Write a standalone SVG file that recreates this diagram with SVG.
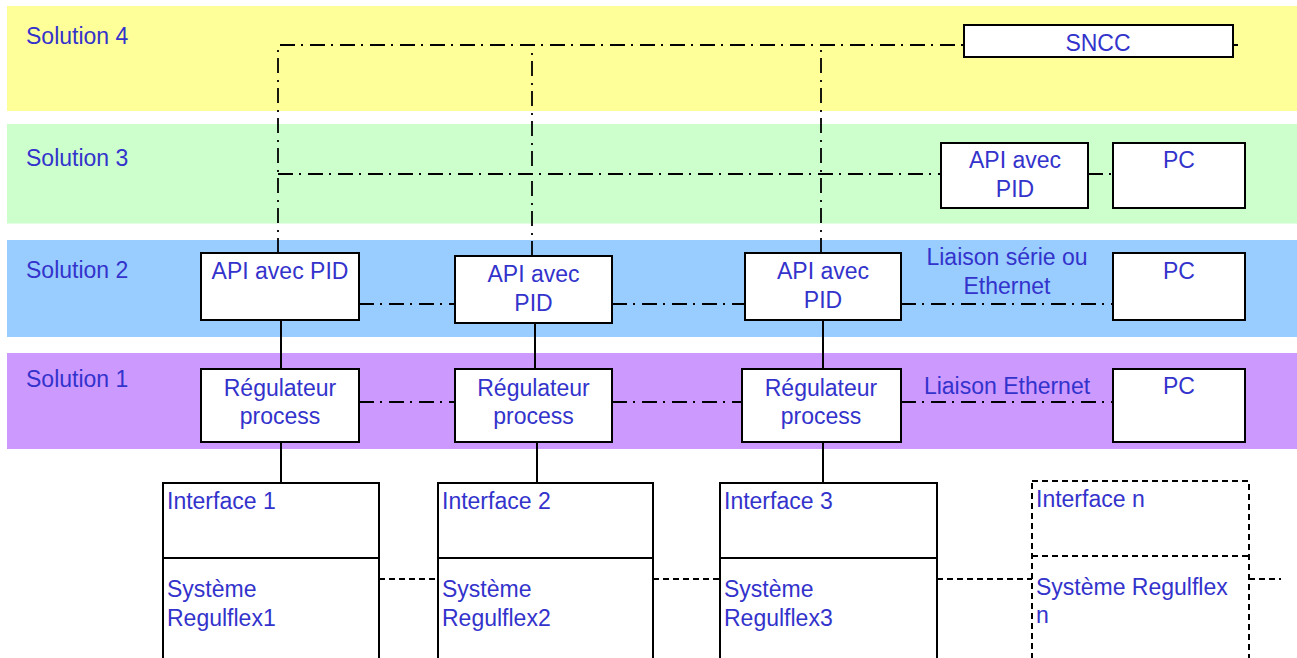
<svg xmlns="http://www.w3.org/2000/svg" width="1297" height="658" viewBox="0 0 1297 658">
<style>
text{font-family:"Liberation Sans",Arial,sans-serif;font-size:23px;fill:#3333CC}
.c{text-anchor:middle}
.box{fill:#fff;stroke:#000;stroke-width:2}
.dbox{fill:#fff;stroke:#000;stroke-width:2;stroke-dasharray:6 4}
.dd{fill:none;stroke:#000;stroke-width:1.8;stroke-dasharray:15 6 2 7}
.sl{fill:none;stroke:#000;stroke-width:2}
.ds{fill:none;stroke:#000;stroke-width:2;stroke-dasharray:6 4}
</style>
<rect width="1297" height="658" fill="#fff"/>
<g id="bands">
<rect x="7" y="6" width="1290" height="105" fill="#FFFF99"/>
<rect x="7" y="124" width="1290" height="99.5" fill="#CCFFCC"/>
<rect x="7" y="240" width="1290" height="97" fill="#99CCFF"/>
<rect x="7" y="353" width="1290" height="96" fill="#CC99FF"/>
<text x="26" y="44">Solution 4</text>
<text x="26" y="166">Solution 3</text>
<text x="26" y="278">Solution 2</text>
<text x="26" y="387">Solution 1</text>
<text class="c" x="1007" y="265">Liaison série ou</text>
<text class="c" x="1007" y="294">Ethernet</text>
<text class="c" x="1007" y="394">Liaison Ethernet</text>
</g>
<g id="connectors">
<path class="dd" d="M278,253 V45 H964 M532,256 V45 M821,253 V45 M1233,45 H1238"/>
<path class="dd" d="M278,174 H941 M1088,174 H1113"/>
<path class="dd" d="M359,304 H455 M612,304 H745 M901,304 H1113"/>
<path class="dd" d="M359,402 H455 M612,402 H742 M901,402 H1113"/>
<path class="sl" d="M281,320 V369 M535,323 V369 M823,320 V369 M281,442 V483 M537,442 V483 M823,442 V483"/>
<path class="ds" d="M379,579 H438 M653,579 H720 M937,579 H1032 M1249,579 H1281"/>
</g>
<g id="sncc"><rect class="box" x="964" y="25" width="269" height="32"/><text class="c" x="1098" y="51">SNCC</text></g>
<g id="api-s3"><rect class="box" x="941" y="143" width="147" height="65"/><text class="c" x="1015" y="168">API avec</text><text class="c" x="1015" y="196.5">PID</text></g>
<g id="pc-s3"><rect class="box" x="1113" y="143" width="132" height="65"/><text class="c" x="1179" y="168">PC</text></g>
<g id="api1"><rect class="box" x="201" y="253" width="158" height="67"/><text class="c" x="280" y="279">API avec PID</text></g>
<g id="api2"><rect class="box" x="455" y="256" width="157" height="67"/><text class="c" x="533.5" y="281.5">API avec</text><text class="c" x="533.5" y="311">PID</text></g>
<g id="api3"><rect class="box" x="745" y="253" width="156" height="67"/><text class="c" x="823" y="279">API avec</text><text class="c" x="823" y="308">PID</text></g>
<g id="pc-s2"><rect class="box" x="1113" y="253" width="132" height="67"/><text class="c" x="1179" y="279">PC</text></g>
<g id="reg1"><rect class="box" x="201" y="369" width="158" height="73"/><text class="c" x="280" y="395.5">Régulateur</text><text class="c" x="280" y="423.5">process</text></g>
<g id="reg2"><rect class="box" x="455" y="369" width="157" height="73"/><text class="c" x="533.5" y="395.5">Régulateur</text><text class="c" x="533.5" y="423.5">process</text></g>
<g id="reg3"><rect class="box" x="742" y="369" width="159" height="73"/><text class="c" x="821" y="395.5">Régulateur</text><text class="c" x="821" y="423.5">process</text></g>
<g id="pc-s1"><rect class="box" x="1113" y="369" width="132" height="73"/><text class="c" x="1179" y="394">PC</text></g>
<g id="sys1"><rect class="box" x="163" y="483" width="216" height="190"/><path class="sl" d="M163,558 H379"/><text x="167" y="509">Interface 1</text><text x="167" y="597">Système</text><text x="167" y="626">Regulflex1</text></g>
<g id="sys2"><rect class="box" x="438" y="483" width="215" height="190"/><path class="sl" d="M438,558 H653"/><text x="442" y="509">Interface 2</text><text x="442" y="597">Système</text><text x="442" y="626">Regulflex2</text></g>
<g id="sys3"><rect class="box" x="720" y="483" width="217" height="190"/><path class="sl" d="M720,558 H937"/><text x="724" y="509">Interface 3</text><text x="724" y="597">Système</text><text x="724" y="626">Regulflex3</text></g>
<g id="sysn"><rect class="dbox" x="1032" y="481" width="217" height="192"/><path class="ds" d="M1032,556 H1249"/><text x="1036" y="507">Interface n</text><text x="1036" y="595">Système Regulflex</text><text x="1036" y="623">n</text></g>
</svg>
